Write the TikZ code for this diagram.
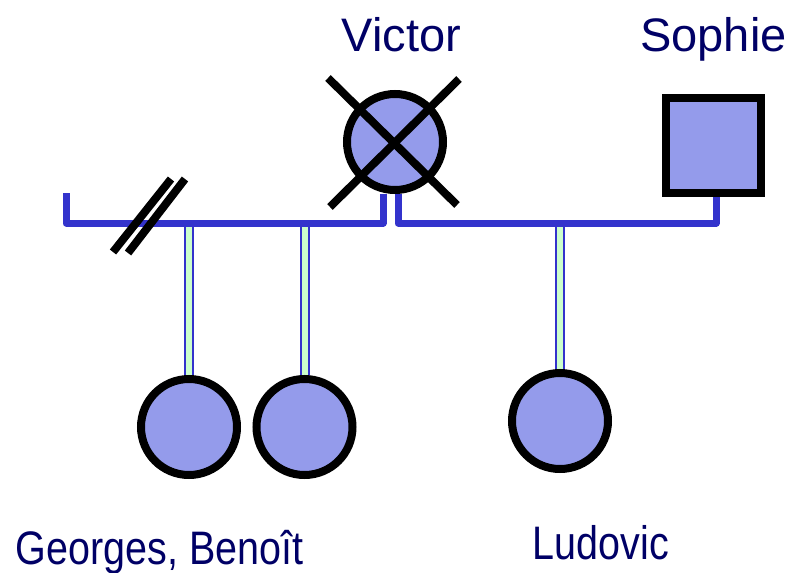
\documentclass[tikz,border=0pt]{standalone}
\usepackage{fontspec}
\setmainfont{Liberation Sans}
\usetikzlibrary{calc,backgrounds}
\definecolor{fillc}{RGB}{148,155,235}
\definecolor{blueline}{RGB}{51,51,204}
\definecolor{kidgreen}{RGB}{204,255,204}
\definecolor{navy}{RGB}{0,0,102}
\begin{document}
\begin{tikzpicture}[x=1pt,y=-1pt,
  person/.style={draw=black,line width=8pt,fill=fillc,inner sep=0pt,minimum size=96pt},
  female/.style={person,circle},
  male/.style={person,rectangle,minimum size=95pt},
  bond/.style={draw=blueline,line width=7pt,line join=round},
  kid/.style={draw=blueline,line width=2pt,double=kidgreen,double distance=6pt},
  cross/.style={draw=black,line width=8pt},
  lbl/.style={text=navy,font=\fontsize{47}{50}\selectfont,anchor=base,inner sep=0pt}]
\useasboundingbox (0,0) rectangle (793,573);
% persons
\node[female] (victor) at (395,142) {};
\node[male] (sophie) at (713.5,145) {};
\node[female] (georges) at (189,427) {};
\node[female] (benoit) at (304.5,427) {};
\node[female] (ludovic) at (560,421) {};
% labels
\node[lbl] (victorlbl) at (401.5,51) {Victor};
\node[lbl] (sophielbl) at (713.5,51) {Sophie};
\node[lbl] (gblbl) at (159.5,564) {\scalebox{0.84}[1]{Georges, Benoît}};
\node[lbl] (ludlbl) at (601,559) {\scalebox{0.84}[1]{Ludovic}};
% coordinates
\coordinate (lineY) at (0,223);
\coordinate (lstart) at (66,193);
\coordinate (vl) at ($(victor.south)+(-12,0)$);
\coordinate (vr) at ($(victor.south)+(3,0)$);
\coordinate (sr) at ($(sophie.south)+(2.5,0)$);
\coordinate (k1) at (georges.north |- lineY);
\coordinate (k2) at (benoit.north |- lineY);
\coordinate (k3) at (ludovic.north |- lineY);
\begin{pgfonlayer}{background}
  \draw[kid] (k1) -- (georges.north);
  \draw[kid] (k2) -- (benoit.north);
  \draw[kid] (k3) -- (ludovic.north);
  \draw[bond] (lstart) -- (lstart |- lineY) -- (vl |- lineY) -- (vl);
  \draw[bond] (vr) -- (vr |- lineY) -- (sr |- lineY) -- (sr);
\end{pgfonlayer}
% deceased cross
\coordinate (x1a) at ($(victor.center)+(-67,-64)$);
\coordinate (x1b) at ($(victor.center)+(62,63)$);
\coordinate (x2a) at ($(victor.center)+(64,-63)$);
\coordinate (x2b) at ($(victor.center)+(-65,65)$);
\draw[cross] (x1a) -- (x1b);
\draw[cross] (x2a) -- (x2b);
% divorce slashes
\coordinate (s1a) at (113,252);
\coordinate (s1b) at (171,179);
\coordinate (s2a) at (128,253);
\coordinate (s2b) at (185,179);
\draw[cross] (s1a) -- (s1b);
\draw[cross] (s2a) -- (s2b);
\end{tikzpicture}
\end{document}
